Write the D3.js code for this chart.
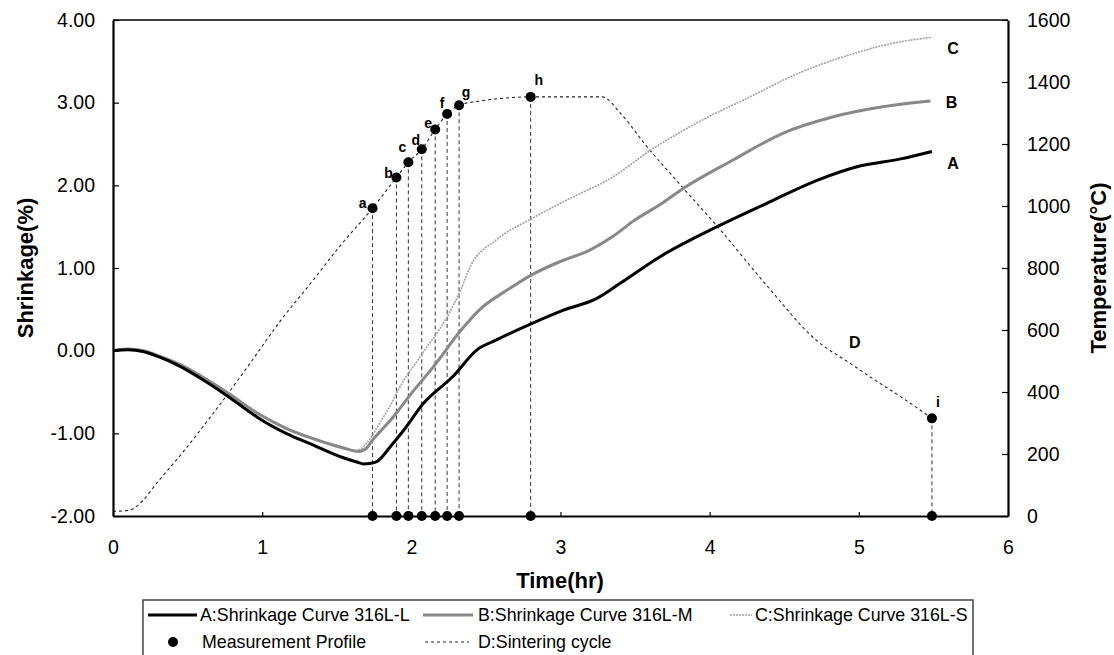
<!DOCTYPE html>
<html><head><meta charset="utf-8">
<script src="https://cdn.jsdelivr.net/npm/d3@7"></script>
<style>body{margin:0;background:#fff}svg{display:block;font-family:Arial,"Liberation Sans",sans-serif}</style>
</head><body><svg id="c" width="1114" height="655"></svg>
<script>
// ---- data ----
const timeA = [0,0.1,0.2,0.3,0.45,0.6,0.76,0.9,0.98,1.16,1.34,1.52,1.64,1.68,1.72,1.77,1.86,1.95,2.08,2.28,2.44,2.57,2.81,3.02,3.24,3.4,3.67,4.05,4.38,4.72,5.0,5.28,5.49];
const shrinkA = [0,0.01,-0.01,-0.07,-0.19,-0.35,-0.54,-0.72,-0.82,-1.0,-1.14,-1.28,-1.35,-1.37,-1.365,-1.34,-1.16,-0.96,-0.64,-0.31,0.01,0.13,0.33,0.49,0.63,0.815,1.14,1.5,1.78,2.06,2.23,2.32,2.41];
const timeB = [0,0.1,0.2,0.3,0.45,0.6,0.76,0.98,1.16,1.4,1.55,1.65,1.7,1.74,1.79,1.88,1.99,2.15,2.33,2.46,2.64,2.81,3.0,3.2,3.35,3.49,3.67,3.82,4.16,4.49,4.83,5.16,5.48];
const shrinkB = [0,0.02,0.0,-0.06,-0.17,-0.32,-0.5,-0.77,-0.94,-1.1,-1.18,-1.22,-1.18,-1.08,-0.98,-0.8,-0.54,-0.19,0.24,0.5,0.73,0.92,1.08,1.22,1.38,1.57,1.77,1.96,2.31,2.63,2.83,2.95,3.02];
const timeC = [0,0.1,0.2,0.3,0.45,0.6,0.76,0.98,1.16,1.4,1.55,1.61,1.66,1.7,1.74,1.79,1.86,1.92,2.06,2.24,2.33,2.39,2.57,2.81,3.04,3.35,3.6,3.93,4.27,4.6,4.94,5.23,5.49];
const shrinkC = [0,0.02,0.01,-0.05,-0.16,-0.31,-0.49,-0.76,-0.93,-1.09,-1.17,-1.21,-1.19,-1.12,-1.02,-0.87,-0.66,-0.45,-0.07,0.41,0.73,1.0,1.34,1.6,1.82,2.1,2.42,2.77,3.07,3.36,3.58,3.72,3.79];
const timeD = [0,0.1,0.15,0.2,0.3,0.45,0.67,0.9,1.12,1.34,1.52,1.74,1.9,1.98,2.07,2.16,2.24,2.32,2.45,2.6,2.8,3.28,3.4,3.58,3.8,4.05,4.38,4.72,4.94,5.1,5.28,5.49];
const tempD = [15,18,28,50,110,195,330,480,628,760,870,993,1092,1141,1183,1247,1297,1325,1338,1347,1352,1352,1300,1191,1070,935,745,565,493,441,385,315];
const pointLabels = ["a","b","c","d","e","f","g","h","i"];
const pointTimes = [1.74,1.9,1.98,2.07,2.16,2.24,2.32,2.8,5.49];
const pointTemps = [993,1092,1141,1183,1247,1297,1325,1352,315];
const xTicks = [0,1,2,3,4,5,6];
const yLeftTicks = [-2,-1,0,1,2,3,4];
const yRightTicks = [0,200,400,600,800,1000,1200,1400,1600];

// ---- layout ----
const svg = d3.select("#c");
const L=113,R=1008,T=20,B=516;
const x = d3.scaleLinear([0,6],[L,R]);
const yL = d3.scaleLinear([-2,4],[B,T]);
const yR = d3.scaleLinear([0,1600],[B,T]);

const lineL = d3.line().x(d=>x(d[0])).y(d=>yL(d[1])).curve(d3.curveMonotoneX);
const lineR = d3.line().x(d=>x(d[0])).y(d=>yR(d[1])).curve(d3.curveMonotoneX);
const zip=(a,b)=>a.map((v,i)=>[v,b[i]]);

// vertical dashed drop lines
svg.append("g").selectAll("line").data(pointTimes.map((t,i)=>[t,pointTemps[i]])).join("line")
  .attr("x1",d=>x(d[0])).attr("x2",d=>x(d[0])).attr("y1",d=>yR(d[1])).attr("y2",B)
  .attr("stroke","#333").attr("stroke-width",1).attr("stroke-dasharray","4,3");

svg.append("path").attr("d",lineR(zip(timeD,tempD))).attr("fill","none")
  .attr("stroke","#222").attr("stroke-width",1.1).attr("stroke-dasharray","3,3");
svg.append("path").attr("d",lineL(zip(timeC,shrinkC))).attr("fill","none")
  .attr("stroke","#a0a0a0").attr("stroke-width",1.6).attr("stroke-dasharray","2,1");
svg.append("path").attr("d",lineL(zip(timeB,shrinkB))).attr("fill","none")
  .attr("stroke","#888").attr("stroke-width",3);
svg.append("path").attr("d",lineL(zip(timeA,shrinkA))).attr("fill","none")
  .attr("stroke","#000").attr("stroke-width",3);

// axes
const fmt2 = d=>d.toFixed(2);
const gL = svg.append("g").attr("transform",`translate(${L},0)`);
gL.call(d3.axisLeft(yL).tickValues(d3.range(-2,4.001,0.2)).tickSize(-4).tickSizeOuter(0).tickFormat(""));
gL.call(d3.axisLeft(yL).tickValues(yLeftTicks).tickSize(-6).tickSizeOuter(0).tickPadding(18).tickFormat(fmt2));
const gR = svg.append("g").attr("transform",`translate(${R},0)`);
gR.call(d3.axisRight(yR).tickValues(d3.range(0,1601,50)).tickSize(-5).tickSizeOuter(0).tickFormat(""));
gR.call(d3.axisRight(yR).tickValues(yRightTicks).tickSize(-6).tickSizeOuter(0).tickPadding(19).tickFormat(d3.format("d")));
const gB = svg.append("g").attr("transform",`translate(0,${B})`);
gB.call(d3.axisBottom(x).tickValues(d3.range(0,6.001,0.2)).tickSize(-4).tickSizeOuter(0).tickFormat(""));
gB.call(d3.axisBottom(x).tickValues(xTicks).tickSize(-4).tickSizeOuter(0).tickPadding(24).tickFormat(d3.format("d")));
svg.selectAll(".domain").attr("stroke","#000").attr("stroke-width",2.2);
svg.selectAll(".tick line").attr("stroke","#000").attr("stroke-width",1.2);
svg.selectAll(".tick text").attr("font-size",19.5).attr("font-family","Arial,'Liberation Sans',sans-serif").attr("fill","#000");
svg.append("line").attr("x1",L).attr("x2",R).attr("y1",T).attr("y2",T).attr("stroke","#000").attr("stroke-width",1.6);

// dots
const pts = pointTimes.map((t,i)=>({t,temp:pointTemps[i],lab:pointLabels[i]}));
svg.append("g").selectAll("circle").data(pts).join("circle")
  .attr("cx",d=>x(d.t)).attr("cy",d=>yR(d.temp)).attr("r",5).attr("fill","#000");
svg.append("g").selectAll("circle").data(pts).join("circle")
  .attr("cx",d=>x(d.t)).attr("cy",B).attr("r",5).attr("fill","#000");
const labOff = {a:[-10,-5],b:[-8,-4],c:[-6,-15],d:[-6,-9],e:[-7,-6],f:[-5,-11],g:[7,-13],h:[8,-17],i:[6,-16]};
svg.append("g").selectAll("text").data(pts).join("text")
  .attr("x",d=>x(d.t)+labOff[d.lab][0]).attr("y",d=>yR(d.temp)+labOff[d.lab][1])
  .attr("text-anchor","middle").attr("dominant-baseline","central")
  .attr("font-size",14).attr("font-weight","bold").text(d=>d.lab);

// curve letters
const curveLabels=[["A",5.49,shrinkA[shrinkA.length-1]],["B",5.48,shrinkB[shrinkB.length-1]],["C",5.49,shrinkC[shrinkC.length-1]]];
svg.append("g").selectAll("text").data(curveLabels).join("text")
  .attr("x",d=>x(d[1])+21).attr("y",d=>yL(d[2])+ (d[0]==="A"?12:d[0]==="B"?1:11))
  .attr("text-anchor","middle").attr("dominant-baseline","central")
  .attr("font-size",16).attr("font-weight","bold").text(d=>d[0]);
svg.append("text").attr("x",x(4.94)+5).attr("y",yR(493)-21).attr("text-anchor","middle")
  .attr("dominant-baseline","central").attr("font-size",16).attr("font-weight","bold").text("D");

// axis titles
svg.append("text").attr("x",560).attr("y",580).attr("text-anchor","middle").attr("dominant-baseline","central")
  .attr("font-size",22).attr("font-weight","bold").text("Time(hr)");
svg.append("text").attr("transform","translate(25,268) rotate(-90)").attr("text-anchor","middle").attr("dominant-baseline","central")
  .attr("font-size",22).attr("font-weight","bold").text("Shrinkage(%)");
svg.append("text").attr("transform","translate(1098,268) rotate(-90)").attr("text-anchor","middle").attr("dominant-baseline","central")
  .attr("font-size",22).attr("font-weight","bold").text("Temperature(°C)");

// legend
const lg = svg.append("g");
lg.append("rect").attr("x",143).attr("y",600).attr("width",830).attr("height",70).attr("fill","#fff").attr("stroke","#444").attr("stroke-width",1.5);
const legItems = [
  {x1:148,x2:197,y:615,type:"A",text:"A:Shrinkage Curve 316L-L",tx:200},
  {x1:423,x2:473,y:615,type:"B",text:"B:Shrinkage Curve 316L-M",tx:478},
  {x1:730,x2:752,y:615,type:"C",text:"C:Shrinkage Curve 316L-S",tx:755},
  {x1:173,x2:173,y:642,type:"P",text:"Measurement Profile",tx:202},
  {x1:425,x2:469,y:642,type:"D",text:"D:Sintering cycle",tx:478}
];
const st = {A:["#000",3,null],B:["#888",3,null],C:["#a0a0a0",1.6,"2,1"],D:["#222",1.1,"3,3"]};
legItems.forEach(it=>{
  if(it.type==="P"){ lg.append("circle").attr("cx",it.x1).attr("cy",it.y).attr("r",5).attr("fill","#000"); }
  else { lg.append("line").attr("x1",it.x1).attr("x2",it.x2).attr("y1",it.y).attr("y2",it.y)
      .attr("stroke",st[it.type][0]).attr("stroke-width",st[it.type][1]).attr("stroke-dasharray",st[it.type][2]); }
  lg.append("text").attr("x",it.tx).attr("y",it.y).attr("dominant-baseline","central").attr("font-size",17.8).text(it.text);
});
</script></body></html>
